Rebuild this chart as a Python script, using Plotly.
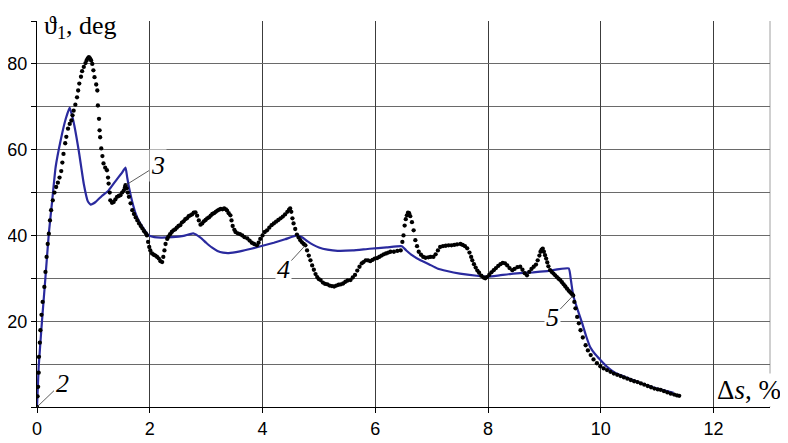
import plotly.graph_objects as go

# ---- data ----
# calculated curve (blue solid)
calc_ds = [0, 0.03, 0.09, 0.15, 0.21, 0.27, 0.33, 0.42, 0.51, 0.58, 0.65, 0.74, 0.83,
           0.9, 0.95, 1.04, 1.15, 1.27, 1.4, 1.5, 1.57, 1.6, 1.63, 1.69, 1.75, 1.81, 1.87,
           1.93, 1.98, 2.08, 2.2, 2.4, 2.6, 2.77, 2.9, 3.0, 3.1, 3.2, 3.3, 3.4, 3.6, 3.8, 4.0,
           4.2, 4.4, 4.61, 4.7, 4.8, 4.9, 5.0, 5.15, 5.33, 5.6, 5.9, 6.2, 6.47, 6.55, 6.65,
           6.8, 6.95, 7.1, 7.27, 7.5, 7.8, 8.0, 8.2, 8.45, 8.8, 9.05, 9.43, 9.47, 9.51, 9.58,
           9.67, 9.74, 9.81, 9.9, 9.99, 10.1, 10.25, 10.47, 10.7, 10.95, 11.15, 11.29]
calc_theta = [0, 9.4, 20.3, 30.3, 40.5, 48.2, 55.9, 62.2, 67.2, 69.8, 66.4, 59.8, 52,
              48, 47.2, 47.8, 49.2, 50.5, 52.8, 54.5, 55.8, 53.5, 51.3, 47.8, 45.1, 43.3, 42,
              40.8, 40, 39.6, 39.5, 39.6, 39.9, 40.5, 39.5, 38.3, 37.2, 36.4, 36, 35.9, 36.3, 36.9, 37.6,
              38.3, 39.1, 40.0, 39.6, 38.6, 37.8, 37.2, 36.7, 36.4, 36.5, 36.9, 37.2, 37.5, 36.5, 35.4,
              34.2, 33.3, 32.3, 31.7, 31.1, 30.6, 30.4, 30.7, 31.1, 31.4, 31.7, 32.3, 29.5, 26, 23,
              19.5, 16.5, 14, 12.3, 11, 9.5, 8, 6.8, 5.6, 4.5, 3.8, 3.3]

# experimental curve (black dots)
exp_ds = [0, 0.01, 0.02, 0.03, 0.035, 0.05, 0.06, 0.08, 0.1, 0.13, 0.15, 0.17, 0.19, 0.21,
          0.23, 0.25, 0.28, 0.31, 0.34, 0.37, 0.4, 0.43, 0.45, 0.47, 0.5, 0.52, 0.55, 0.58,
          0.61, 0.63, 0.65, 0.68, 0.71, 0.73, 0.75, 0.78, 0.8, 0.83, 0.86, 0.88, 0.9, 0.92,
          0.94, 0.96, 0.98, 1.0, 1.02, 1.05, 1.07, 1.08, 1.1, 1.11, 1.12, 1.14, 1.16, 1.18,
          1.21, 1.24, 1.26, 1.27, 1.29, 1.3, 1.33, 1.36, 1.39, 1.42, 1.45, 1.48, 1.51, 1.54,
          1.56, 1.57, 1.59, 1.61, 1.63, 1.66, 1.69, 1.72, 1.75, 1.78, 1.81, 1.84, 1.87, 1.9,
          1.93, 1.95, 1.97, 1.99, 2.01, 2.04, 2.07, 2.1, 2.13, 2.16, 2.19, 2.22, 2.24, 2.26,
          2.28, 2.31, 2.33, 2.36, 2.39, 2.42, 2.45, 2.48, 2.51, 2.54, 2.57, 2.6, 2.63, 2.66,
          2.69, 2.72, 2.75, 2.78, 2.81, 2.84, 2.87, 2.9, 2.93, 2.96, 2.99, 3.02, 3.05, 3.08,
          3.11, 3.14, 3.17, 3.2, 3.23, 3.26, 3.29, 3.32, 3.35, 3.37, 3.4, 3.43, 3.45, 3.47,
          3.5, 3.52, 3.56, 3.6, 3.64, 3.68, 3.73, 3.77, 3.81, 3.85, 3.9, 3.93, 3.96, 4.0,
          4.04, 4.08, 4.12, 4.16, 4.2, 4.24, 4.28, 4.32, 4.36, 4.4, 4.44, 4.47, 4.49, 4.51,
          4.53, 4.55, 4.58, 4.61, 4.64, 4.67, 4.7, 4.73, 4.76, 4.79, 4.82, 4.85, 4.88, 4.91,
          4.94, 4.97, 5.0, 5.03, 5.07, 5.11, 5.15, 5.19, 5.23, 5.27, 5.31, 5.35, 5.39, 5.43,
          5.47, 5.51, 5.56, 5.6, 5.64, 5.68, 5.72, 5.76, 5.79, 5.83, 5.87, 5.91, 5.95, 5.99,
          6.03, 6.07, 6.11, 6.15, 6.19, 6.23, 6.27, 6.33, 6.39, 6.45, 6.48, 6.5, 6.52, 6.54,
          6.56, 6.58, 6.6, 6.62, 6.65, 6.68, 6.71, 6.74, 6.77, 6.81, 6.85, 6.89, 6.94, 6.98,
          7.03, 7.07, 7.11, 7.15, 7.2, 7.25, 7.3, 7.35, 7.4, 7.45, 7.51, 7.55, 7.59, 7.63,
          7.67, 7.7, 7.72, 7.75, 7.78, 7.81, 7.84, 7.88, 7.92, 7.95, 7.98, 8.02, 8.06, 8.1,
          8.14, 8.18, 8.22, 8.26, 8.3, 8.34, 8.38, 8.43, 8.47, 8.52, 8.57, 8.61, 8.65, 8.69,
          8.73, 8.77, 8.81, 8.85, 8.88, 8.91, 8.93, 8.95, 8.97, 8.99, 9.01, 9.03, 9.05, 9.07,
          9.1, 9.13, 9.16, 9.19, 9.22, 9.25, 9.28, 9.31, 9.34, 9.37, 9.4, 9.43, 9.46, 9.49,
          9.51, 9.53, 9.55, 9.58, 9.61, 9.64, 9.68, 9.73, 9.77, 9.82, 9.87, 9.93, 9.99, 10.05,
          10.11, 10.17, 10.23, 10.29, 10.35, 10.41, 10.47, 10.53, 10.59, 10.65, 10.71, 10.77,
          10.83, 10.89, 10.95, 11.01, 11.06, 11.12, 11.18, 11.24, 11.3, 11.35, 11.39]
exp_theta = [0, 2.5, 4.7, 8, 11.7, 15, 17.9, 21.5, 24.5, 28, 31.5, 35, 38, 40.4,
             43.5, 45.9, 48.2, 50, 51.3, 52.3, 53.5, 55, 57, 59, 61.5, 63, 64.9, 66,
             66.8, 68, 69.1, 70.5, 72.2, 73.8, 75.4, 77, 78.3, 79.3, 80.2, 80.8, 81.3, 81.6,
             81.3, 80.8, 80, 78.5, 76.9, 75.2, 73.8, 70.3, 67.2, 64.5, 62.9, 60.3, 58.5, 56.8,
             55.8, 55.2, 53.5, 52.1, 50, 48.2, 47.6, 47.8, 48.4, 49, 49.2, 49.4, 50, 50.5,
             51.2, 51.7, 51, 50, 49, 47.5, 45.9, 45, 44.2, 43.5, 42.8, 42.2, 41.6, 41,
             40.5, 40, 38.5, 37.3, 36.5, 35.8, 35.5, 35.3, 35, 34.6, 34, 33.8, 35, 36.5,
             38, 39.2, 39.7, 40.3, 40.8, 41.2, 41.4, 41.8, 42.2, 42.4, 43, 43.3, 43.8, 44,
             44.5, 44.7, 44.9, 45.3, 45.4, 44.6, 43.5, 42.5, 42.8, 43.3, 43.6, 44, 44.2, 44.6,
             45, 45.2, 45.5, 45.8, 46, 46.2, 46.1, 46.3, 46.1, 45.8, 45.2, 44.7, 43.5, 42.2,
             41.3, 40.8, 40.5, 40.3, 40, 39.6, 39.3, 38.8, 38.3, 38, 37.7, 38.3, 39.2, 40,
             40.8, 41.2, 41.8, 42.4, 42.8, 43.2, 43.6, 44, 44.4, 44.9, 45.5, 46, 46.3, 45.5,
             44, 42.8, 41.5, 40.2, 39.5, 38.9, 38.4, 38, 37.7, 36.5, 35.3, 34.2, 33, 32,
             31, 30.3, 29.8, 29.6, 29, 28.7, 28.6, 28.3, 28.2, 28.1, 28.3, 28.5, 28.6, 28.8,
             29.2, 29.5, 29.6, 30.2, 30.8, 31.8, 32.7, 33.5, 33.8, 34.2, 34.2, 34, 34.3, 34.6,
             34.7, 35, 35.3, 35.6, 35.8, 36, 36.2, 36.2, 36.4, 36.5, 38.5, 40, 42.3, 43.8,
             44.7, 45.3, 45.2, 44.5, 43.1, 41.2, 38.9, 37.5, 36.2, 35.5, 35, 34.8, 34.9, 35,
             35, 35.6, 36.5, 37.3, 37.5, 37.6, 37.7, 37.7, 37.8, 37.9, 38, 37.8, 37.5, 37,
             36, 35, 34.2, 33.3, 32.5, 31.8, 31.3, 30.6, 30.2, 30, 30.3, 30.8, 31.4, 31.9,
             32.4, 32.9, 33.3, 33.6, 33.5, 33, 32.4, 31.9, 32.2, 32.6, 32.7, 32, 31.2, 30.7,
             31.5, 32.2, 32.7, 33.2, 34.2, 35.3, 36.2, 36.7, 36.9, 36.2, 35.4, 34.6, 33.7, 32.8,
             31.9, 31.5, 31.1, 30.7, 30.3, 29.9, 29.6, 29.1, 28.6, 28.1, 27.6, 27.1, 26.7, 26.3,
             26, 24.5, 23, 21, 19.5, 17.9, 16.2, 14.4, 13.2, 12.1, 11.1, 10.2, 9.5, 9,
             8.6, 8.2, 7.8, 7.5, 7.2, 6.9, 6.6, 6.3, 6, 5.8, 5.5, 5.2,
             4.9, 4.6, 4.3, 4.1, 4.0, 3.7, 3.4, 3.1, 2.9, 2.7, 2.6]

x_ticks = [0, 2, 4, 6, 8, 10, 12]
y_ticks = [20, 40, 60, 80]

# curve labels: (text, ds, theta, offset_x, offset_y)
curve_labels = [("2", 0.0, 0.0, 25, -24),
                ("3", 1.57, 51.7, 32, -20),
                ("4", 4.76, 37.7, -22, 24),
                ("5", 9.51, 26.0, -21, 22)]

# ---- figure ----
fig = go.Figure()

fig.add_trace(go.Scatter(x=calc_ds, y=calc_theta, mode="lines",
                         line=dict(color="#2a2a9e", width=2.2, shape="spline", smoothing=0.4),
                         showlegend=False, hoverinfo="skip"))
fig.add_trace(go.Scatter(x=exp_ds, y=exp_theta, mode="markers",
                         marker=dict(color="black", size=4.3), showlegend=False,
                         hoverinfo="skip"))

serif = "Liberation Serif, DejaVu Serif, Times New Roman, serif"
for txt, xx, yy, ox, oy in curve_labels:
    fig.add_annotation(x=xx, y=yy, text="<i>%s</i>" % txt, showarrow=True,
                       arrowhead=0, arrowwidth=0.8, arrowcolor="#333333",
                       ax=ox, ay=oy, bgcolor="white",
                       font=dict(family=serif, size=26, color="black"))

fig.add_annotation(xref="paper", yref="paper", x=0.008, y=0.985, xanchor="left",
                   yanchor="middle", text="ϑ<sub>1</sub>, deg", showarrow=False,
                   bgcolor="white", borderpad=0,
                   font=dict(family=serif, size=26, color="black"))
fig.add_annotation(xref="paper", yref="paper", x=0.971, y=0.045, xanchor="center",
                   yanchor="middle", text="Δ<i>s</i>, %", showarrow=False,
                   bgcolor="white", font=dict(family=serif, size=27, color="black"))

# light right border
fig.add_shape(type="line", xref="paper", yref="paper", x0=1, x1=1, y0=0, y1=1,
              line=dict(color="#a0a0a0", width=1), layer="below")

# the page body adds an 8 px margin; the figure is sized to fit inside it
tick_font = dict(family="Liberation Sans, Arial, sans-serif", size=18, color="black")
fig.update_layout(
    width=780, height=435,
    margin=dict(l=28.5, r=18, t=13, b=36, autoexpand=False),
    paper_bgcolor="white", plot_bgcolor="white",
    font=tick_font,
    xaxis=dict(range=[0, 13], tickvals=x_ticks, ticks="outside", ticklen=5,
               tickcolor="black", showgrid=True, gridcolor="#3c3c3c", gridwidth=1.4,
               showline=True, linecolor="black", linewidth=1.4, zeroline=False,
               automargin=False, tickfont=tick_font),
    yaxis=dict(range=[0, 90], tickvals=y_ticks, ticks="outside",
               ticklen=5, tickcolor="black", showgrid=True, gridcolor="#6a6a6a",
               gridwidth=1.2, showline=True, linecolor="black", linewidth=1.4,
               zeroline=False, automargin=False, tickfont=tick_font,
               minor=dict(dtick=10, tick0=0, ticks="outside", ticklen=5,
                          tickcolor="black", showgrid=True, gridcolor="#6a6a6a",
                          gridwidth=1.2)),
)

fig.write_html("out.html")
